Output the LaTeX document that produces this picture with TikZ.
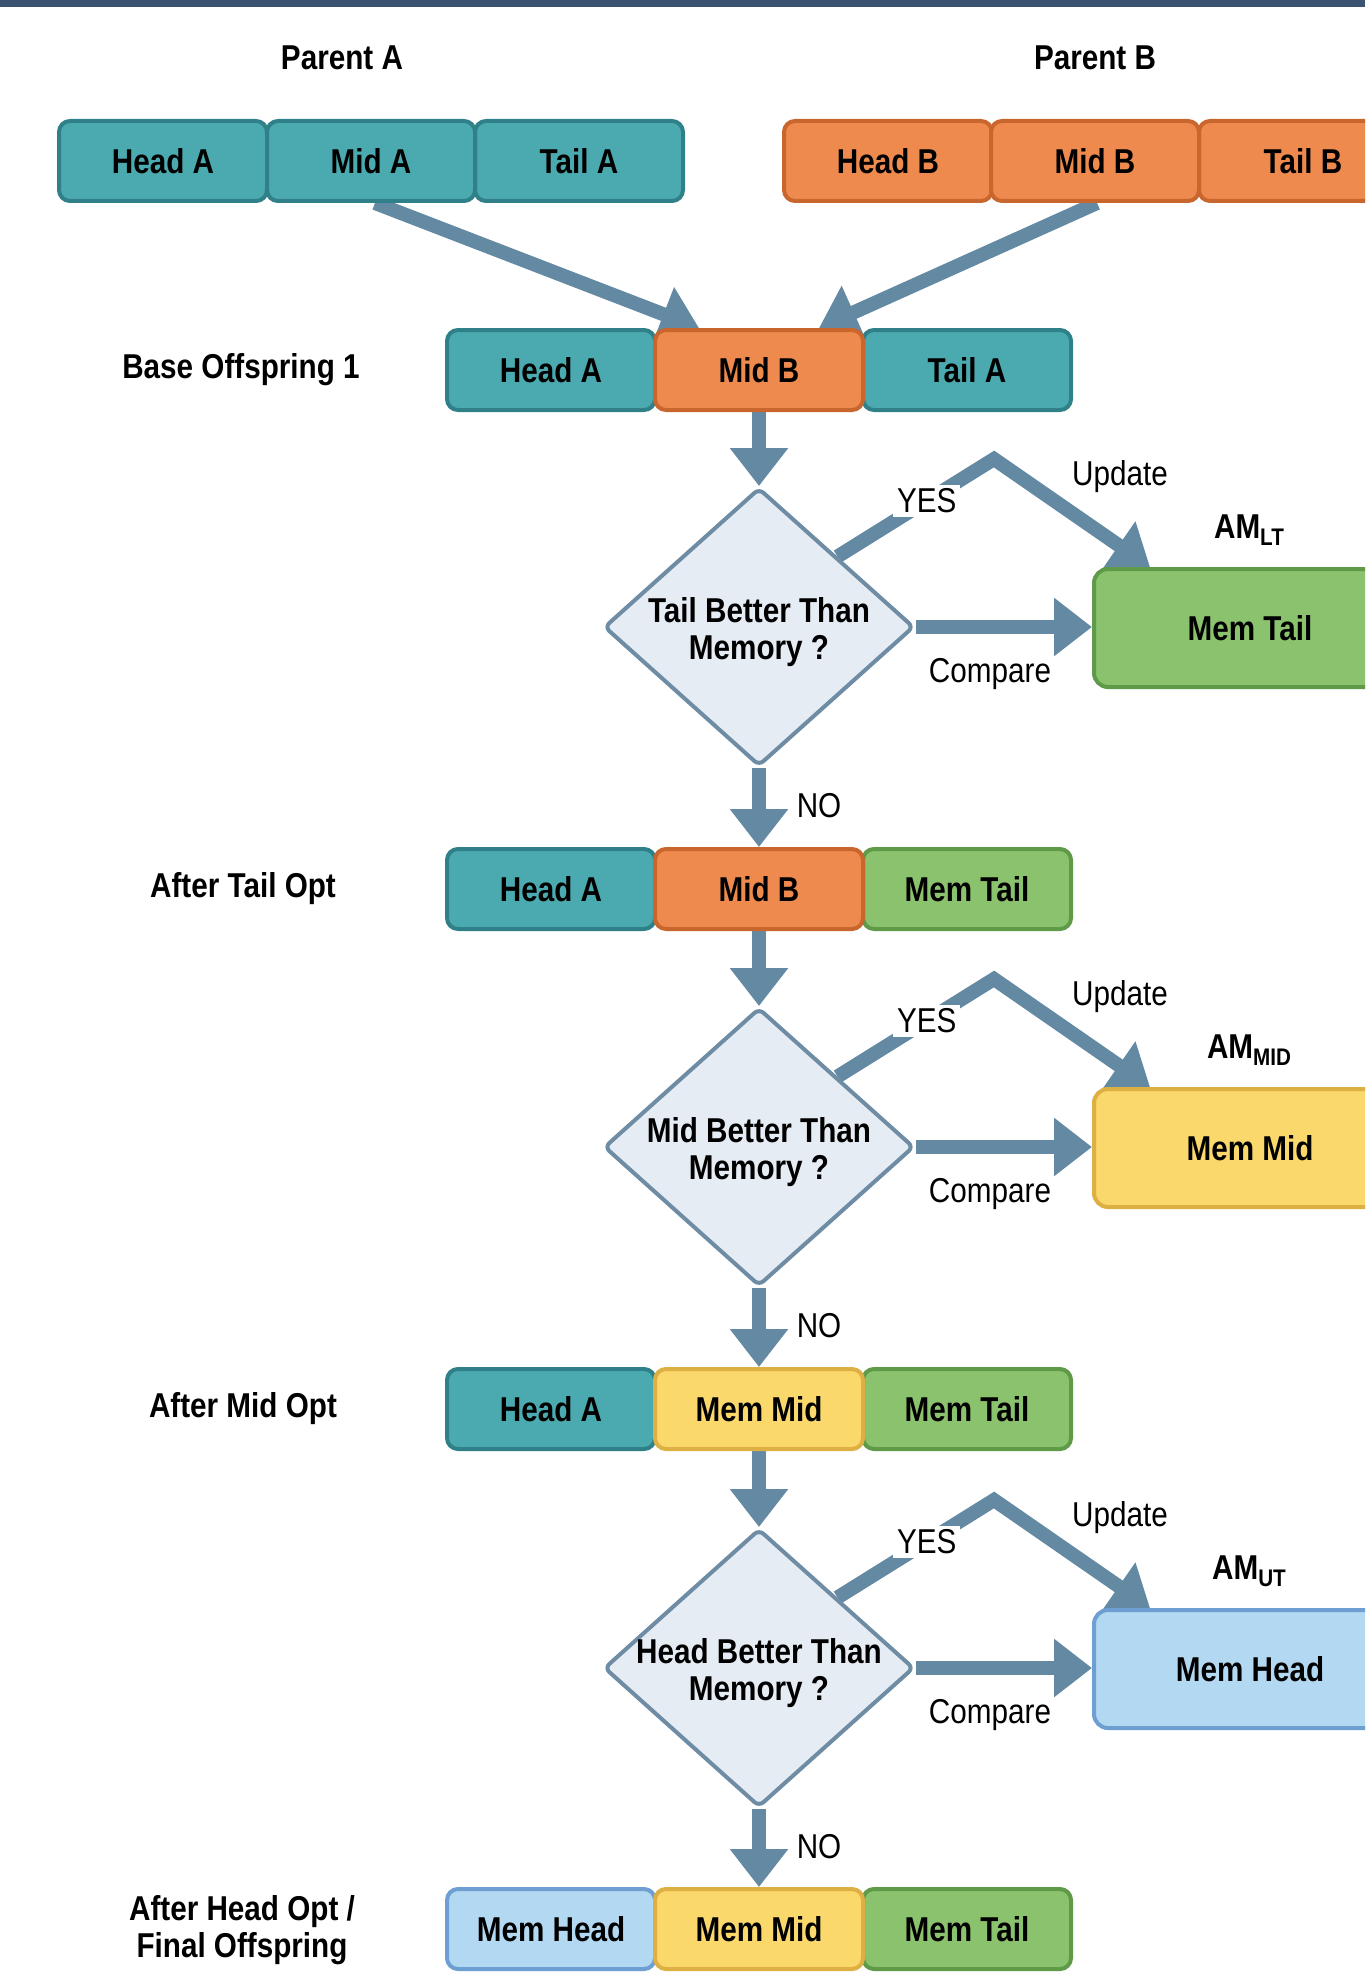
\documentclass[tikz,border=0pt]{standalone}
\usepackage{fontspec}
\setmainfont{Liberation Sans}[FakeStretch=0.86]
\usetikzlibrary{shapes.geometric,arrows.meta,calc}
\definecolor{tealF}{HTML}{4BAAB0}\definecolor{tealD}{HTML}{2F8088}
\definecolor{orF}{HTML}{EF8A4F}\definecolor{orD}{HTML}{C9662E}
\definecolor{grF}{HTML}{8BC26E}\definecolor{grD}{HTML}{5E9A47}
\definecolor{yeF}{HTML}{FAD86C}\definecolor{yeD}{HTML}{DDB044}
\definecolor{blF}{HTML}{B3D8F2}\definecolor{blD}{HTML}{6E9FD2}
\definecolor{diaF}{HTML}{E6ECF3}\definecolor{diaD}{HTML}{6F8CA5}
\definecolor{arrC}{HTML}{6389A3}
\definecolor{barC}{HTML}{3C5271}
\newcommand\fsz{\fontsize{34.5}{37}\selectfont}
\newcommand\subsz{\fontsize{24}{24}\selectfont}
\pgfdeclarelayer{back}\pgfdeclarelayer{arr}
\pgfsetlayers{back,arr,main}
\begin{document}
\begin{tikzpicture}[x=1pt,y=-1pt,
  every node/.style={font=\fsz\bfseries, text=black},
  cell/.style={draw, line width=4pt, rounded corners=11pt, minimum width=208pt, minimum height=80pt, inner sep=0pt},
  cT/.style={cell, fill=tealF, draw=tealD},
  cO/.style={cell, fill=orF, draw=orD},
  cG/.style={cell, fill=grF, draw=grD},
  cY/.style={cell, fill=yeF, draw=yeD},
  cB/.style={cell, fill=blF, draw=blD},
  mem/.style={minimum width=312pt, minimum height=118pt, rounded corners=14pt},
  dia/.style={diamond, draw=diaD, fill=diaF, line width=4pt, minimum width=310pt, minimum height=278pt, inner sep=0pt, rounded corners=6pt},
  flow/.style={draw=arrC, line width=14pt, line join=miter, -{Triangle[length=38pt,width=56pt]}},
  lbl/.style={font=\fsz},
  row/.style={font=\fsz\bfseries, align=center}
]
\useasboundingbox (0,0) rectangle (1365,1972);
\clip (0,0) rectangle (1365,1972);
\begin{pgfonlayer}{back}
\fill[white] (0,0) rectangle (1365,1972);
\fill[barC] (0,0) rectangle (1365,7);
\end{pgfonlayer}

% parents
\node (lpa) at (342,58) {Parent A};
\node (lpb) at (1095,58) {Parent B};
\node[cT] (pa1) at (163,161) {Head A};
\node[cT] (pa3) at (579,161) {Tail A};
\node[cT] (pa2) at (371,161) {Mid A};
\node[cO] (pb1) at (888,161) {Head B};
\node[cO] (pb3) at (1303,161) {Tail B};
\node[cO] (pb2) at (1095,161) {Mid B};

% row 1
\node[row] (l1) at (241,370) {Base Offspring 1};
\node[cT] (r1a) at (551,370) {Head A};
\node[cT] (r1c) at (967,370) {Tail A};
\node[cO] (r1b) at (759,370) {Mid B};
% row 2
\node[row] (l2) at (243,889) {After Tail Opt};
\node[cT] (r2a) at (551,889) {Head A};
\node[cG] (r2c) at (967,889) {Mem Tail};
\node[cO] (r2b) at (759,889) {Mid B};
% row 3
\node[row] (l3) at (243,1409) {After Mid Opt};
\node[cT] (r3a) at (551,1409) {Head A};
\node[cG] (r3c) at (967,1409) {Mem Tail};
\node[cY] (r3b) at (759,1409) {Mem Mid};
% row 4
\node[row] (l4) at (242,1930) {After Head Opt /\\Final Offspring};
\node[cB] (r4a) at (551,1929) {Mem Head};
\node[cG] (r4c) at (967,1929) {Mem Tail};
\node[cY] (r4b) at (759,1929) {Mem Mid};

% diamonds and memory boxes
\foreach \i/\y/\q/\st/\mt/\sub in {1/627/Tail/cG/Mem Tail/LT, 2/1147/Mid/cY/Mem Mid/MID, 3/1668/Head/cB/Mem Head/UT}{
  \node[dia] (d\i) at (759,\y) {};
  \node[row] (dt\i) at (759,\y+5) {\q{} Better Than\\Memory ?};
  \node[\st, mem] (m\i) at (1250,\y+1) {\mt};
  \node (am\i) at (1249,\y-97) {AM\raisebox{-7pt}{\subsz\bfseries \sub}};
  \node[lbl] (up\i) at (1120,\y-150) {Update};
  \node[lbl] (cp\i) at (990,\y+47) {Compare};
  \node[lbl] (no\i) at (819,\y+179) {NO};
  \coordinate (c\i) at (994,\y-168);
}

\begin{pgfonlayer}{arr}
\draw[flow] ($(pa2.south)+(4,0)$) -- ($(r1b.north)+(-60,0)$);
\draw[flow] ($(pb2.south)+(2,0)$) -- ($(r1b.north)+(60,0)$);
\draw[flow] (r1b.south) -- (d1.north);
\draw[flow] (d1.south) -- (r2b.north);
\draw[flow] (r2b.south) -- (d2.north);
\draw[flow] (d2.south) -- (r3b.north);
\draw[flow] (r3b.south) -- (d3.north);
\draw[flow] (d3.south) -- (r4b.north);
\foreach \i in {1,2,3}{
  \draw[flow] (d\i.east) -- (d\i.east -| m\i.west);
  \draw[flow] (d\i.north east) -- node[pos=0.57, fill=white, font=\fsz, inner sep=4pt] (yes\i) {YES} (c\i) -- ($(m\i.north west)+(58,0)$);
}
\end{pgfonlayer}
\end{tikzpicture}
\end{document}
